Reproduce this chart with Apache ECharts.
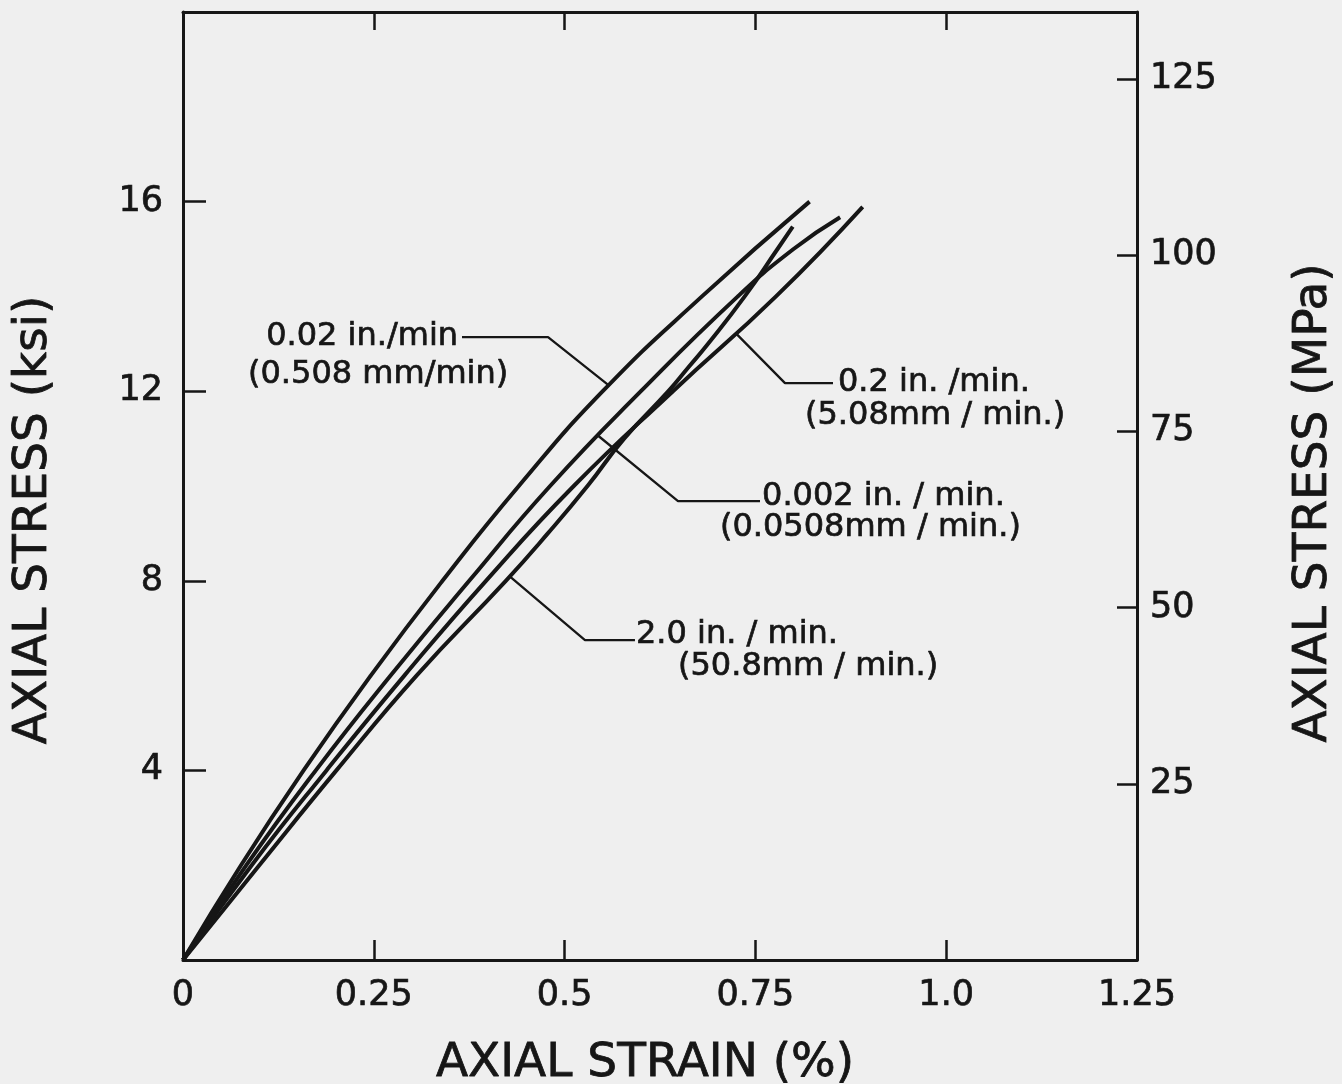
<!DOCTYPE html>
<html>
<head>
<meta charset="utf-8">
<script src="https://cdn.jsdelivr.net/npm/echarts@6/dist/echarts.min.js"></script>
<style>
html,body{margin:0;padding:0;background:#efefef;}
#chart{width:1342px;height:1084px;}
</style>
</head>
<body>
<div id="chart"></div>
<script>
// ---- tick values / labels ----
const strainTickValues = [0, 0.25, 0.5, 0.75, 1.0, 1.25];
const strainTickLabels = ['0', '0.25', '0.5', '0.75', '1.0', '1.25'];
const strainTickMarks = [0.25, 0.5, 0.75, 1.0];
const ksiTickValues = [4, 8, 12, 16];
const ksiTickLabels = ['4', '8', '12', '16'];
const mpaTickValues = [25, 50, 75, 100, 125];
const mpaTickLabels = ['25', '50', '75', '100', '125'];

// ---- curves: axial strain (%) vs axial stress (ksi) ----
const rate0_02Stress = [0, 2, 4, 6, 8, 10, 12, 14, 16];
const rate0_02Strain = [0, 0.076, 0.158, 0.246, 0.340, 0.440, 0.550, 0.680, 0.821];

const rate0_002Stress = [0, 2, 4, 6, 8, 10, 12, 14, 15, 15.67];
const rate0_002Strain = [0, 0.083, 0.174, 0.272, 0.375, 0.481, 0.600, 0.727, 0.800, 0.861];

const rate0_2Stress = [0, 2, 4, 6, 8, 10, 12, 14, 15.89];
const rate0_2Strain = [0, 0.090, 0.188, 0.290, 0.397, 0.512, 0.642, 0.777, 0.8906];

const rate2_0Stress = [0, 2, 4, 6, 8, 9, 10, 11, 12, 12.5, 13, 14, 15, 15.47];
const rate2_0Strain = [0, 0.100, 0.201, 0.306, 0.423, 0.478, 0.530, 0.578, 0.636, 0.662, 0.688, 0.736, 0.779, 0.799];

// ---- annotation leaders (strain, stress) ----
const leader0_02 = [[0.3656, 13.14], [0.4783, 13.14], [0.5575, 12.13]];
const leader0_2 = [[0.7245, 13.22], [0.7888, 12.17], [0.8517, 12.17]];
const leader0_002 = [[0.5440, 11.06], [0.6486, 9.68], [0.7560, 9.68]];
const leader2_0 = [[0.4285, 8.09], [0.5267, 6.75], [0.5922, 6.75]];

// ---- annotation texts ----
const annTexts = ['0.02 in./min', '(0.508 mm/min)', '0.2 in. /min.', '(5.08mm / min.)',
                  '0.002 in. / min.', '(0.0508mm / min.)', '2.0 in. / min.', '(50.8mm / min.)'];
const annStrain = [0.3604, 0.0852, 0.8582, 0.8150, 0.7587, 0.7036, 0.5935, 0.6486];
const annStress = [13.14, 12.34, 12.17, 11.48, 9.77, 9.11, 6.86, 6.18];
const annAlign = ['right', 'left', 'left', 'left', 'left', 'left', 'left', 'left'];

const ink = '#161616';
const font = 'DejaVu Sans';

function zip(xs, ys) { return xs.map((x, i) => [x, ys[i]]); }
function lookup(values, labels) { return v => { const i = values.findIndex(t => Math.abs(t - v) < 1e-6); return i >= 0 ? labels[i] : ''; }; }

function curve(name, strain, stress) {
  return {
    name: name, type: 'line', data: zip(strain, stress), showSymbol: false, symbol: 'none',
    smooth: 0.5, lineStyle: { color: ink, width: 4 }, z: 3, silent: true
  };
}
function leader(data) {
  return { type: 'line', data: data, showSymbol: false, symbol: 'none', smooth: false,
           lineStyle: { color: ink, width: 2.3 }, z: 2, silent: true };
}

const chart = echarts.init(document.getElementById('chart'), null, { renderer: 'canvas' });

const axisLineStyle = { color: ink, width: 3 };
const tickLabelStyle = { fontSize: 35, color: ink, fontFamily: font, textBorderColor: ink, textBorderWidth: 0.7 };
const nameStyle = { fontSize: 47, color: ink, fontFamily: font, textBorderColor: ink, textBorderWidth: 0.8 };

chart.setOption({
  backgroundColor: '#efefef',
  animation: false,
  grid: { left: 183, right: 205, top: 12, bottom: 124, containLabel: false, outerBoundsMode: 'none' },
  xAxis: [
    {
      type: 'value', position: 'bottom', min: 0, max: 1.25, interval: 0.25,
      axisLine: { show: true, onZero: false, lineStyle: axisLineStyle },
      axisTick: { show: true, inside: true, length: 20, customValues: strainTickMarks, lineStyle: { color: ink, width: 2.5 } },
      axisLabel: { show: true, customValues: strainTickValues, formatter: lookup(strainTickValues, strainTickLabels), margin: 18, ...tickLabelStyle },
      splitLine: { show: false },
      name: 'AXIAL STRAIN (%)', nameLocation: 'middle', nameGap: 80,
      nameTextStyle: { ...nameStyle, padding: [0, 30, 0, 0] }
    },
    {
      type: 'value', position: 'top', min: 0, max: 1.25, interval: 0.25,
      axisLine: { show: true, onZero: false, lineStyle: axisLineStyle },
      axisTick: { show: true, inside: true, length: 18, customValues: strainTickMarks, lineStyle: { color: ink, width: 2.5 } },
      axisLabel: { show: false }, splitLine: { show: false }
    }
  ],
  yAxis: [
    {
      type: 'value', position: 'left', min: 0, max: 20, interval: 4,
      axisLine: { show: true, onZero: false, lineStyle: axisLineStyle },
      axisTick: { show: true, inside: true, length: 23, customValues: ksiTickValues, lineStyle: { color: ink, width: 2.5 } },
      axisLabel: { show: true, customValues: ksiTickValues, formatter: lookup(ksiTickValues, ksiTickLabels), margin: 20, ...tickLabelStyle },
      splitLine: { show: false },
      name: 'AXIAL STRESS (ksi)', nameLocation: 'middle', nameGap: 126, nameRotate: 90,
      nameTextStyle: { ...nameStyle, padding: [0, 68, 0, 0] }
    },
    {
      type: 'value', position: 'right', min: 0, max: 134.5, interval: 25,
      axisLine: { show: true, onZero: false, lineStyle: axisLineStyle },
      axisTick: { show: true, inside: true, length: 20, customValues: mpaTickValues, lineStyle: { color: ink, width: 2.5 } },
      axisLabel: { show: true, customValues: mpaTickValues, formatter: lookup(mpaTickValues, mpaTickLabels), margin: 13, ...tickLabelStyle },
      splitLine: { show: false },
      name: 'AXIAL STRESS (MPa)', nameLocation: 'middle', nameGap: 153, nameRotate: 90,
      nameTextStyle: { ...nameStyle, padding: [0, 34, 0, 0] }
    }
  ],
  series: [
    curve('0.02 in./min (0.508 mm/min)', rate0_02Strain, rate0_02Stress),
    curve('0.002 in./min. (0.0508 mm/min.)', rate0_002Strain, rate0_002Stress),
    curve('0.2 in./min. (5.08 mm/min.)', rate0_2Strain, rate0_2Stress),
    curve('2.0 in./min. (50.8 mm/min.)', rate2_0Strain, rate2_0Stress),
    leader(leader0_02), leader(leader0_2), leader(leader0_002), leader(leader2_0)
  ]
});

// annotation texts placed at data coordinates through the chart's own scales
const textEls = annTexts.map((t, i) => {
  const p = chart.convertToPixel({ xAxisIndex: 0, yAxisIndex: 0 }, [annStrain[i], annStress[i]]);
  return {
    type: 'text', x: p[0], y: p[1], silent: true, z: 10,
    style: { text: t, fill: ink, font: '32px "DejaVu Sans"', textAlign: annAlign[i], textVerticalAlign: 'middle',
             stroke: ink, lineWidth: 0.7 }
  };
});
chart.setOption({ graphic: { elements: textEls } });
</script>
</body>
</html>
